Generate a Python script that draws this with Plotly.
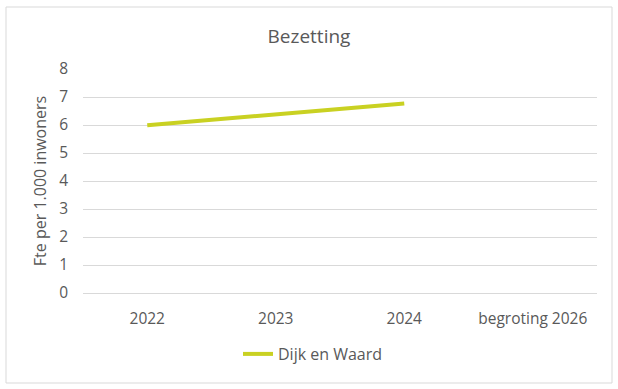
import plotly.graph_objects as go

categories = ["2022", "2023", "2024", "begroting 2026"]
dijk_en_waard = [5.99, 6.38, 6.77, None]
y_ticks = [0, 1, 2, 3, 4, 5, 6, 7, 8]

W, H = 618, 389
L, R, T, B = 83, 21, 69, 96
pw, ph = W - L - R, H - T - B

fig = go.Figure()
fig.add_trace(go.Scatter(
    x=categories, y=dijk_en_waard, mode="lines", name="Dijk en Waard",
    line=dict(color="#c9d122", width=4), connectgaps=False,
))

font_fam = "Open Sans, Lato, sans-serif"
fig.update_layout(
    width=W, height=H,
    margin=dict(l=L, r=R, t=T, b=B, autoexpand=False),
    paper_bgcolor="white", plot_bgcolor="white",
    font=dict(family=font_fam, color="#595959", size=15.5),
    title=dict(text="Bezetting", x=0.5, xanchor="center", y=1 - 36 / H, yanchor="middle",
               font=dict(size=19, color="#595959", family=font_fam)),
    showlegend=True,
    legend=dict(orientation="h", x=(313 - L) / pw, xanchor="center", y=-(354 - 293) / ph, yanchor="middle",
                font=dict(size=16, color="#595959")),
    xaxis=dict(showgrid=False, showline=False, ticks="", tickfont=dict(size=15.5),
               ticklabelstandoff=14, range=[-0.5, 3.5], automargin=False),
    yaxis=dict(range=[0, 8], tickvals=y_ticks, showgrid=True, gridcolor="#d9d9d9", gridwidth=1,
               zeroline=True, zerolinecolor="#d9d9d9", zerolinewidth=1, automargin=False,
               showline=False, ticks="", ticklabelstandoff=14, tickfont=dict(size=15.5),
               title=dict(text="Fte per 1.000 inwoners", font=dict(size=16, color="#595959"), standoff=8)),
    shapes=[dict(type="rect", xref="paper", yref="paper",
                 x0=(6 - L) / pw, x1=(612 - L) / pw,
                 y0=(H - B - 383) / ph, y1=(H - B - 7) / ph,
                 line=dict(color="#d9d9d9", width=1), fillcolor="rgba(0,0,0,0)", layer="below")],
)

fig.write_html("out.html", config={"displayModeBar": False},
               post_script="document.body.style.margin='0';")
